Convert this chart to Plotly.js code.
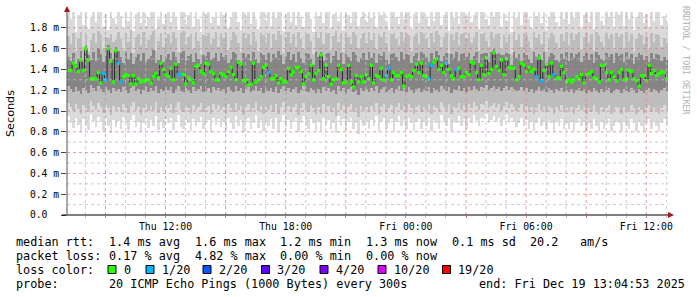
<!DOCTYPE html>
<html><head><meta charset="utf-8">
<script src="https://cdn.plot.ly/plotly-3.0.1.min.js"></script>
<style>html,body{margin:0;padding:0;background:#fff;} #chart{width:697px;height:297px;}</style>
</head><body><div id="chart"></div>
<script>
// ---------- DATA ----------
// median RTT (ms), one value every 7.5 minutes, 30 h window ending Fri Dec 19 13:05
const median = [
1.39,1.39,1.46,1.43,1.38,1.49,1.39,1.60,1.49,1.31, 1.31,1.31,1.37,1.27,1.36,1.30,1.60,1.48,1.28,1.58,
1.46,1.28,1.33,1.35,1.34,1.26,1.34,1.26,1.31,1.28, 1.29,1.30,1.30,1.27,1.33,1.36,1.32,1.46,1.40,1.35,
1.33,1.41,1.30,1.45,1.35,1.35,1.35,1.26,1.32,1.30, 1.27,1.43,1.44,1.38,1.36,1.46,1.45,1.38,1.36,1.30,
1.30,1.36,1.35,1.33,1.38,1.42,1.35,1.30,1.47,1.45, 1.29,1.30,1.25,1.26,1.46,1.28,1.30,1.33,1.42,1.44,
1.37,1.31,1.31,1.34,1.27,1.31,1.28,1.28,1.41,1.35, 1.38,1.42,1.42,1.38,1.26,1.33,1.36,1.44,1.30,1.36,
1.39,1.54,1.31,1.44,1.33,1.26,1.30,1.31,1.44,1.40, 1.27,1.28,1.44,1.28,1.23,1.34,1.28,1.33,1.28,1.35,
1.31,1.44,1.27,1.34,1.33,1.41,1.30,1.34,1.41,1.30, 1.37,1.34,1.34,1.37,1.24,1.33,1.34,1.33,1.39,1.45,
1.37,1.46,1.34,1.33,1.31,1.44,1.47,1.50,1.40,1.44, 1.37,1.46,1.40,1.34,1.31,1.40,1.41,1.33,1.33,1.37,
1.35,1.47,1.46,1.37,1.30,1.44,1.35,1.51,1.36,1.40, 1.56,1.43,1.39,1.49,1.35,1.50,1.42,1.41,1.41,1.30,
1.33,1.46,1.44,1.38,1.42,1.38,1.40,1.33,1.51,1.29, 1.39,1.45,1.33,1.46,1.35,1.31,1.32,1.43,1.37,1.28,
1.30,1.28,1.30,1.33,1.31,1.35,1.27,1.35,1.36,1.38, 1.32,1.31,1.28,1.44,1.44,1.37,1.30,1.37,1.33,1.29,
1.37,1.40,1.30,1.31,1.39,1.38,1.31,1.29,1.24,1.34, 1.34,1.29,1.44,1.36,1.39,1.34,1.36,1.38,1.37,1.31
];
// lost pings (out of 20) for each median value
const loss = [
0,0,0,0,0,0,0,0,0,0, 0,0,0,0,1,1,0,0,0,0,
1,1,0,0,0,0,0,0,0,0, 0,0,0,0,0,0,0,0,0,0,
0,0,0,0,1,1,0,0,0,0, 0,0,0,0,0,0,0,0,0,0,
0,0,0,0,0,0,0,0,0,0, 0,0,0,0,0,0,0,0,0,0,
1,0,0,0,0,0,0,0,0,0, 0,0,0,0,0,0,0,0,0,0,
0,0,0,0,0,0,0,0,0,0, 0,0,0,0,0,0,0,0,0,0,
0,0,0,0,0,0,0,1,1,0, 0,0,0,0,0,0,0,0,0,0,
0,0,0,0,1,1,0,0,0,0, 0,1,0,0,0,1,0,0,0,0,
0,0,0,0,0,0,0,0,0,0, 0,0,0,0,0,0,0,0,0,0,
0,0,0,0,0,0,0,1,0,1, 0,0,0,0,1,0,0,0,0,0,
0,0,0,0,0,0,0,0,0,0, 0,0,0,0,0,0,0,0,0,0,
0,0,0,0,0,0,0,0,0,0, 0,0,0,0,0,0,0,0,0,0
];
// smoke: spread of the 20 pings per 7.5-minute step, in units of 0.01 ms
const smokeHi = [
195,188,195,176,192,195,183,195,179,190,195,186,195,195,181,193,178,195,189,184,
195,191,180,195,187,195,177,193,195,185,195,182,190,195,195,179,188,195,184,192,
195,186,195,190,178,195,195,184,192,195,181,195,188,176,195,193,195,185,190,195,
183,195,192,195,180,189,195,195,186,178,195,191,195,184,195,188,179,195,195,187,
195,182,195,189,195,195,177,192,195,186,195,183,195,190,181,195,195,188,176,195,
191,195,185,195,195,180,193,195,187,195,178,195,192,185,195,195,182,190,195,186,
195,189,195,181,195,192,195,186,178,195,195,190,184,195,188,195,195,179,193,195,
185,195,195,190,182,195,187,195,195,183,192,195,177,195,189,195,184,195,195,191,
195,186,192,195,179,195,195,188,183,195,190,195,195,181,194,187,195,176,195,189,
195,183,195,195,188,180,195,191,195,185,195,178,190,195,195,186,182,195,188,195,
184,195,189,195,195,181,192,195,186,195,179,195,195,187,183,195,190,195,180,195,
192,195,182,195,188,195,178,190,195,195,185,193,181,195,187,195,195,183,191,186
];
const smokeP90 = [
172,164,175,158,170,176,162,174,157,168,175,165,177,173,160,171,170,174,166,168,
176,169,159,175,166,178,156,171,174,163,176,161,168,173,177,158,167,175,162,170,
174,165,176,169,157,175,177,163,171,174,160,176,167,155,173,172,175,164,169,176,
162,175,170,174,159,168,176,173,165,157,175,170,174,163,176,167,158,175,173,166,
175,161,174,168,177,173,156,171,176,165,174,162,176,169,160,175,174,167,155,176,
170,176,164,174,175,159,172,177,166,175,157,174,171,164,176,173,161,169,175,165,
176,168,175,160,174,171,176,165,157,174,175,169,163,176,167,174,173,158,172,175,
164,176,174,169,161,175,166,177,173,162,171,175,156,174,168,176,163,174,175,170,
175,165,171,176,158,174,175,167,162,176,169,174,175,160,173,166,174,155,176,168,
174,162,175,173,167,159,176,170,174,164,176,157,169,175,173,165,161,174,167,176,
163,175,168,174,176,160,171,175,165,174,158,176,173,166,162,175,169,174,159,175,
171,174,161,176,167,174,157,169,175,173,164,172,160,175,166,174,173,162,170,165
];
const smokeP75 = [
152,148,156,145,150,158,147,163,154,149,157,148,161,155,147,153,163,156,150,162,
158,152,146,157,150,156,145,152,155,148,156,147,150,153,159,146,149,154,147,151,
155,149,157,152,146,156,158,148,153,155,147,156,150,145,154,153,157,149,151,156,
148,156,152,154,146,150,157,155,149,145,156,152,155,148,157,150,146,156,154,149,
156,147,155,151,158,154,145,152,157,149,155,147,157,151,146,156,155,150,144,157,
152,157,148,155,156,146,153,158,149,156,145,155,152,148,157,154,147,151,156,149,
157,151,156,146,155,153,157,149,145,155,156,152,148,157,150,155,154,146,153,156,
148,157,155,152,147,156,150,158,154,148,153,156,145,155,151,157,148,155,156,152,
156,149,153,157,146,155,156,156,147,157,160,155,156,154,154,156,155,144,157,151,
155,148,156,154,150,146,157,152,155,149,157,145,152,156,154,149,147,155,150,157,
148,156,151,155,157,147,153,156,149,155,146,157,154,150,148,156,152,155,146,156,
153,155,147,157,150,155,145,152,156,154,149,153,147,156,150,155,154,148,152,149
];
const smokeP25 = [
124,121,118,123,119,116,122,120,117,125,122,119,124,121,118,123,120,117,122,119,
121,118,123,120,117,122,124,119,121,116,120,123,118,122,119,124,117,121,119,123,
120,123,117,121,124,119,118,122,120,117,123,119,121,124,118,120,122,117,123,120,
122,119,121,117,123,120,118,124,119,122,117,121,123,118,120,124,119,122,117,121,
119,122,118,123,117,121,124,119,122,118,121,123,117,120,124,119,118,122,120,117,
121,117,123,119,122,118,120,116,124,119,122,117,121,123,118,120,115,122,119,121,
118,122,119,124,117,121,123,118,120,122,117,121,124,119,122,118,123,120,117,121,
122,118,121,119,123,117,122,120,118,124,121,119,123,117,121,120,124,119,122,118,
123,120,124,121,119,123,122,125,120,122,124,121,123,119,122,124,120,123,121,119,
120,123,119,122,118,121,117,120,123,119,121,118,122,120,117,121,119,122,118,120,
118,121,117,120,122,119,121,117,120,118,122,119,117,121,118,120,122,117,119,121,
120,117,121,119,118,122,120,117,121,119,117,120,122,118,121,119,117,120,122,119
];
const smokeP10 = [
108,104,100,107,102,97,106,103,99,110,105,101,108,104,98,107,103,96,105,101,
104,99,107,103,98,105,109,101,104,96,103,107,100,105,101,109,98,104,100,106,
103,107,98,104,109,101,99,105,103,97,106,101,104,108,99,103,105,97,107,102,
106,101,104,97,107,103,99,108,101,105,96,104,107,99,103,109,100,105,97,104,
101,106,99,107,97,104,109,101,105,99,104,107,96,103,108,101,99,106,103,97,
104,97,107,101,105,99,103,95,108,101,106,97,104,107,99,103,94,105,101,104,
99,105,101,108,97,104,107,99,103,106,97,104,108,101,105,99,107,103,97,104,
106,99,104,101,107,97,105,103,99,109,104,101,107,97,104,103,108,101,106,99,
107,103,109,105,101,107,106,110,103,105,108,104,107,101,105,109,103,107,104,100,
103,107,101,105,99,104,97,103,107,101,104,99,105,103,97,104,101,106,99,103,
99,104,97,103,106,101,104,97,103,99,106,101,97,104,99,103,106,97,101,104,
103,97,104,101,99,106,103,97,104,101,97,103,106,99,104,101,97,103,106,101
];
const smokeLo = [
95,88,84,93,87,80,92,86,82,97,90,85,94,89,81,93,86,79,91,85,
90,83,94,88,82,91,96,85,89,80,88,93,84,91,86,95,82,89,84,92,
88,93,82,89,96,85,83,91,88,81,92,86,89,94,83,88,91,80,93,87,
92,85,89,81,93,88,83,95,86,91,80,89,93,83,88,96,84,91,81,89,
86,92,83,93,81,89,96,85,91,83,89,93,80,88,95,86,83,92,88,81,
89,81,93,86,91,83,88,79,95,86,92,81,89,93,83,88,78,91,86,89,
83,91,86,95,81,89,93,83,88,92,81,89,95,86,91,83,93,88,81,89,
92,83,89,86,93,81,91,88,83,96,89,86,93,81,89,88,95,86,92,83,
93,88,96,91,86,93,92,97,88,91,95,89,93,86,91,96,88,93,89,85,
88,93,86,91,83,89,81,88,93,86,89,83,91,88,81,89,86,92,83,88,
83,89,81,88,92,86,89,81,88,83,92,86,81,89,83,88,92,81,86,89,
88,81,89,86,83,92,88,81,89,86,81,88,92,83,89,86,81,88,92,86
];
const yTickVals = [0,0.2,0.4,0.6,0.8,1.0,1.2,1.4,1.6,1.8];
const yTickText = ['0.0  ','0.2 m','0.4 m','0.6 m','0.8 m','1.0 m','1.2 m','1.4 m','1.6 m','1.8 m'];
const xTickHours = [9,12,15,18,21,24,27,30,33,36]; // hours after Thu Dec 18 00:00
const xTickText = ['','Thu 12:00','','Thu 18:00','','Fri 00:00','','Fri 06:00','','Fri 12:00'];
const lossKeys = [0,1,2,3,4,10,19];
const lossLabels = ['0','1/20','2/20','3/20','4/20','10/20','19/20'];
const lossColors = ['#26ff00','#00b8ff','#0059ff','#5e00ff','#7e00ff','#dd00ff','#ff0000'];
// statistics lines: [column, text]
const statLine1 = [[0,'median rtt:'],[13,'1.4 ms avg'],[25,'1.6 ms max'],[37,'1.2 ms min'],[49,'1.3 ms now'],[61,'0.1 ms sd'],[72,'20.2'],[79,'am/s']];
const statLine2 = [[0,'packet loss:'],[13,'0.17 % avg'],[25,'4.82 % max'],[37,'0.00 % min'],[49,'0.00 % now']];
const statLine3 = [[0,'loss color:']];
const statLine4 = [[0,'probe:'],[13,'20 ICMP Echo Pings (1000 Bytes) every 300s']];
const endText = 'end: Fri Dec 19 13:04:53 2025';

// ---------- BUILD ----------
const DAY0 = Date.UTC(2025,11,18,0,0,0);
const START = Date.UTC(2025,11,18,7,5,0);
const END = Date.UTC(2025,11,19,13,5,0);
const MIN = 60000, STEP = 7.5*MIN;
const medX = median.map((_,i)=>START + (i+0.5)*STEP);
const colorOf = k => lossColors[lossKeys.indexOf(k)];
const nb = s => s.replace(/ /g,'\u00a0');
const ms = a => a.map(v=>v/100);

function band(lo, hi, color){
  const l = ms(lo), h = ms(hi);
  return {type:'bar', x:medX, base:l, y:h.map((v,i)=>v-l[i]), width:STEP,
    marker:{color:color, line:{width:0}}, hoverinfo:'skip', showlegend:false};
}
const traces = [
  band(smokeLo, smokeHi, '#dadada'),
  band(smokeP10, smokeP90, '#bdbdbd'),
  band(smokeP25, smokeP75, '#858585'),
  {type:'scatter', mode:'lines', x:medX, y:median, line:{shape:'hvh', color:'#2a2a2a', width:1},
   hoverinfo:'skip', showlegend:false},
  {type:'scatter', mode:'markers', x:medX, y:median,
   marker:{symbol:'square', size:3.4, color:loss.map(colorOf), line:{width:0}},
   hoverinfo:'skip', showlegend:false}
];

const L=67, T=12, W=601, H=203, CW=7.14, X0=15.3;
const px = x => (x-L)/W, py = y => (215-y)/H;
const mono = 'DejaVu Sans Mono';
const annotations = [], shapes = [];
const txt = (x,y,s,anchor) => annotations.push({xref:'paper',yref:'paper',x:px(x),y:py(y),
  xanchor:anchor||'left',yanchor:'middle',showarrow:false,borderpad:0,text:nb(s),
  font:{family:mono,size:11.8,color:'#000'}});
const lineY = [241.5, 255.5, 269.5, 283.5];
[statLine1,statLine2,statLine3,statLine4].forEach((segs,li)=>segs.forEach(([c,s])=>txt(X0+c*CW, lineY[li], s)));
txt(478, lineY[3], endText);
const boxX = [108,146,203,261.5,320,378,442.5];
lossLabels.forEach((lab,i)=>{
  shapes.push({type:'rect',xref:'paper',yref:'paper',x0:px(boxX[i]),x1:px(boxX[i]+8),
    y0:py(273.5),y1:py(265.5),fillcolor:lossColors[i],line:{color:'#000',width:1}});
  txt(boxX[i]+14.5, lineY[2], lab);
});
annotations.push({xref:'paper',yref:'paper',x:px(10.5),y:py(113.5),xanchor:'center',yanchor:'middle',
  showarrow:false,textangle:-90,text:'Seconds',font:{family:'DejaVu Sans',size:11.2,color:'#000'}});
annotations.push({xref:'paper',yref:'paper',x:px(686),y:py(60),xanchor:'center',yanchor:'middle',
  showarrow:false,textangle:90,text:nb('RRDTOOL / TOBI OETIKER'),font:{family:mono,size:8.2,color:'#b0b0b0'}});

// grid drawn above the smoke, as rrdtool does
const gridLine = (x0,x1,y0,y1,xref,yref,color) => shapes.push({type:'line',layer:'above',xref,yref,x0,x1,y0,y1,
  line:{color,width:1,dash:'dot'}});
for (let h=8; h<=37; h++){
  const t = DAY0 + h*60*MIN; if (t<=START || t>=END) continue;
  gridLine(t,t,0,1,'x','paper', h%3===0 ? 'rgba(230,120,120,0.75)' : 'rgba(190,190,190,0.8)');
}
for (let k=1; k<=19; k++){
  const v = k/10;
  gridLine(0,1,v,v,'paper','y', k%2===0 ? 'rgba(230,120,120,0.75)' : 'rgba(190,190,190,0.8)');
}
// axis arrows
shapes.push({type:'path',xref:'paper',yref:'paper',layer:'above',
  path:`M ${px(64)} ${py(12)} L ${px(70)} ${py(12)} L ${px(67)} ${py(6)} Z`,fillcolor:'#a01818',line:{width:0}});
shapes.push({type:'path',xref:'paper',yref:'paper',layer:'above',
  path:`M ${px(668)} ${py(212)} L ${px(668)} ${py(218)} L ${px(674)} ${py(215)} Z`,fillcolor:'#a01818',line:{width:0}});
shapes.push({type:'line',xref:'paper',yref:'paper',layer:'above',x0:px(62),x1:px(668),y0:0,y1:0,line:{color:'#000',width:1}});
shapes.push({type:'line',xref:'paper',yref:'paper',layer:'above',x0:0,x1:0,y0:0,y1:1,line:{color:'#555',width:1}});

const layout = {
  width:697, height:297, margin:{l:L,r:697-668,t:T,b:297-215,pad:0},
  paper_bgcolor:'#fff', plot_bgcolor:'#fff', barmode:'overlay', bargap:0, showlegend:false,
  xaxis:{type:'date', range:[START,END], tickvals:xTickHours.map(h=>DAY0+h*60*MIN), ticktext:xTickText,
    showgrid:false, ticks:'outside', ticklen:2, tickcolor:'#d08080', showline:false,
    zeroline:false, tickfont:{family:mono,size:9.8,color:'#000'},
    minor:{dtick:60*MIN, tick0:DAY0, showgrid:false, ticks:'outside', ticklen:2, tickcolor:'#bbb'}},
  yaxis:{range:[0,1.952], tickvals:yTickVals, ticktext:yTickText.map(nb),
    showgrid:false, ticks:'outside', ticklen:5, tickcolor:'#444', showline:false,
    zeroline:false, tickfont:{family:mono,size:9.7,color:'#000'}},
  annotations, shapes
};
Plotly.newPlot('chart', traces, layout, {staticPlot:true, displayModeBar:false});
</script></body></html>
